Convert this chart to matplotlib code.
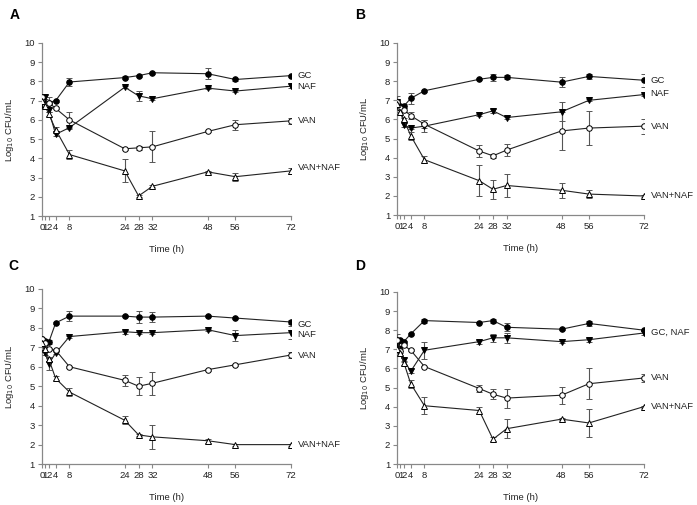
import matplotlib
matplotlib.use("Agg")
import matplotlib.pyplot as plt

plt.rcParams['font.family'] = ['Liberation Sans', 'DejaVu Sans']

time = [0, 1, 2, 4, 8, 24, 28, 32, 48, 56, 72]
xticks = [0, 1, 2, 4, 8, 24, 28, 32, 48, 56, 72]
xtick_labels = ["0", "1", "2", "4", "8", "24", "28", "32", "48", "56", "72"]
yticks = [1, 2, 3, 4, 5, 6, 7, 8, 9, 10]

# Panel A
A_gc = [6.8, 6.9, 6.9, 7.0, 7.97, 8.2, 8.3, 8.45, 8.4, 8.1, 8.3]
A_gc_err = [0.05, 0.05, 0.05, 0.05, 0.2, 0.1, 0.05, 0.05, 0.3, 0.1, 0.05]
A_naf = [7.1, 7.2, 6.5, 5.25, 5.6, 7.7, 7.25, 7.1, 7.65, 7.5, 7.75]
A_naf_err = [0.1, 0.1, 0.1, 0.1, 0.05, 0.05, 0.25, 0.05, 0.05, 0.05, 0.1]
A_van = [7.2, 6.8, 6.9, 6.6, 6.0, 4.5, 4.55, 4.6, 5.4, 5.75, 5.95]
A_van_err = [0.1, 0.1, 0.3, 0.05, 0.4, 0.05, 0.1, 0.8, 0.05, 0.25, 0.15]
A_vn = [7.0, 6.7, 6.3, 5.5, 4.2, 3.35, 2.05, 2.55, 3.3, 3.05, 3.35]
A_vn_err = [0.1, 0.1, 0.1, 0.15, 0.25, 0.6, 0.05, 0.05, 0.05, 0.2, 0.15]

# Panel B
B_gc = [6.9, 6.7, 6.7, 7.1, 7.5, 8.1, 8.2, 8.2, 7.95, 8.25, 8.05]
B_gc_err = [0.1, 0.1, 0.1, 0.3, 0.05, 0.05, 0.2, 0.1, 0.25, 0.15, 0.35]
B_naf = [6.9, 6.5, 5.7, 5.55, 5.65, 6.25, 6.45, 6.1, 6.4, 7.0, 7.3]
B_naf_err = [0.1, 0.1, 0.1, 0.05, 0.3, 0.05, 0.1, 0.05, 0.5, 0.05, 0.05]
B_van = [6.9, 6.6, 6.5, 6.2, 5.75, 4.35, 4.1, 4.4, 5.4, 5.55, 5.65]
B_van_err = [0.3, 0.1, 0.1, 0.2, 0.2, 0.3, 0.1, 0.3, 1.0, 0.9, 0.4]
B_vn = [6.8, 6.4, 6.0, 5.15, 3.9, 2.8, 2.35, 2.55, 2.3, 2.1, 2.0]
B_vn_err = [0.1, 0.1, 0.1, 0.2, 0.2, 0.8, 0.5, 0.6, 0.4, 0.2, 0.05]

# Panel C
C_gc = [7.4, 7.3, 7.25, 8.25, 8.6, 8.6, 8.55, 8.55, 8.6, 8.5, 8.3]
C_gc_err = [0.1, 0.05, 0.1, 0.05, 0.25, 0.05, 0.3, 0.25, 0.05, 0.05, 0.1]
C_naf = [7.2, 6.7, 6.15, 6.7, 7.55, 7.8, 7.75, 7.75, 7.9, 7.6, 7.75]
C_naf_err = [0.1, 0.1, 0.3, 0.05, 0.05, 0.1, 0.05, 0.05, 0.05, 0.3, 0.35]
C_van = [7.4, 7.2, 6.9, 6.85, 6.0, 5.3, 5.0, 5.15, 5.85, 6.1, 6.6]
C_van_err = [0.1, 0.1, 0.05, 0.05, 0.05, 0.3, 0.45, 0.6, 0.05, 0.05, 0.15]
C_vn = [7.2, 6.9, 6.4, 5.4, 4.7, 3.25, 2.5, 2.4, 2.2, 2.0, 2.0]
C_vn_err = [0.1, 0.1, 0.1, 0.1, 0.2, 0.2, 0.05, 0.6, 0.1, 0.05, 0.05]

# Panel D
D_gc = [7.5, 7.5, 7.4, 7.8, 8.5, 8.4, 8.5, 8.15, 8.05, 8.35, 8.0]
D_gc_err = [0.1, 0.05, 0.05, 0.05, 0.1, 0.05, 0.1, 0.2, 0.05, 0.15, 0.05]
D_naf = [7.25, 7.0, 6.45, 5.85, 6.95, 7.4, 7.6, 7.6, 7.4, 7.5, 7.85]
D_naf_err = [0.1, 0.1, 0.1, 0.1, 0.45, 0.1, 0.2, 0.25, 0.05, 0.1, 0.1]
D_van = [7.5, 6.9, 7.2, 6.95, 6.1, 4.95, 4.65, 4.45, 4.6, 5.2, 5.5]
D_van_err = [0.3, 0.1, 0.1, 0.05, 0.05, 0.2, 0.25, 0.5, 0.45, 0.8, 0.2]
D_vn = [7.0, 6.8, 6.3, 5.2, 4.05, 3.8, 2.3, 2.85, 3.35, 3.15, 4.0]
D_vn_err = [0.1, 0.1, 0.1, 0.2, 0.45, 0.2, 0.1, 0.5, 0.05, 0.75, 0.05]

panels = [
    ("A", [0.060, 0.572, 0.357, 0.343],
     [(A_gc, A_gc_err), (A_naf, A_naf_err), (A_van, A_van_err), (A_vn, A_vn_err)],
     [("GC", 8.3), ("NAF", 7.75), ("VAN", 5.95), ("VAN+NAF", 3.55)], (10, 15)),
    ("B", [0.5696, 0.574, 0.354, 0.341],
     [(B_gc, B_gc_err), (B_naf, B_naf_err), (B_van, B_van_err), (B_vn, B_vn_err)],
     [("GC", 8.05), ("NAF", 7.35), ("VAN", 5.65), ("VAN+NAF", 2.0)], (355, 15)),
    ("C", [0.060, 0.081, 0.357, 0.347],
     [(C_gc, C_gc_err), (C_naf, C_naf_err), (C_van, C_van_err), (C_vn, C_vn_err)],
     [("GC", 8.15), ("NAF", 7.65), ("VAN", 6.6), ("VAN+NAF", 2.0)], (8, 266)),
    ("D", [0.5696, 0.081, 0.354, 0.341],
     [(D_gc, D_gc_err), (D_naf, D_naf_err), (D_van, D_van_err), (D_vn, D_vn_err)],
     [("GC, NAF", 7.9), ("VAN", 5.5), ("VAN+NAF", 4.0)], (355, 266)),
]

styles = [
    dict(marker='o', mfc='black', mec='black'),
    dict(marker='v', mfc='black', mec='black'),
    dict(marker='o', mfc='white', mec='black'),
    dict(marker='^', mfc='white', mec='black'),
]

FS = 6.8
fig = plt.figure(figsize=(6.97, 5.05), dpi=100)
W, H = 697, 505
for letter, rect, series, labels, lpos in panels:
    ax = fig.add_axes(rect)
    for (vals, errs), st in zip(series, styles):
        ax.errorbar(time, vals, yerr=errs, color='#222222', lw=0.8,
                    ms=4, mew=0.7, ecolor='#555555', elinewidth=0.8,
                    capsize=2.5, capthick=0.8, zorder=3, **st)
    for txt, yv in labels:
        ax.annotate(txt, xy=(72, yv), xytext=(5, 0), textcoords='offset points',
                    ha='left', va='center', fontsize=FS, color='#222222',
                    annotation_clip=False)
    ax.set_xlim(0, 72)
    ax.set_ylim(1, 10)
    ax.set_xticks(xticks)
    ax.set_xticklabels(xtick_labels)
    ax.set_yticks(yticks)
    ax.tick_params(labelsize=FS, length=3, width=0.8, color='#888888',
                   labelcolor='#222222', pad=2)
    for s in ['top', 'right']:
        ax.spines[s].set_visible(False)
    for s in ['left', 'bottom']:
        ax.spines[s].set_color('#888888')
        ax.spines[s].set_linewidth(0.9)
    ax.set_xlabel('Time (h)', fontsize=FS, color='#222222', labelpad=9)
    ax.set_ylabel('Log$_{10}$ CFU/mL', fontsize=FS, color='#222222', labelpad=6)
    fig.text(lpos[0] / W, 1 - lpos[1] / H, letter, fontsize=10, fontweight='bold',
             ha='left', va='center')

fig.savefig('out.png', dpi=100)
